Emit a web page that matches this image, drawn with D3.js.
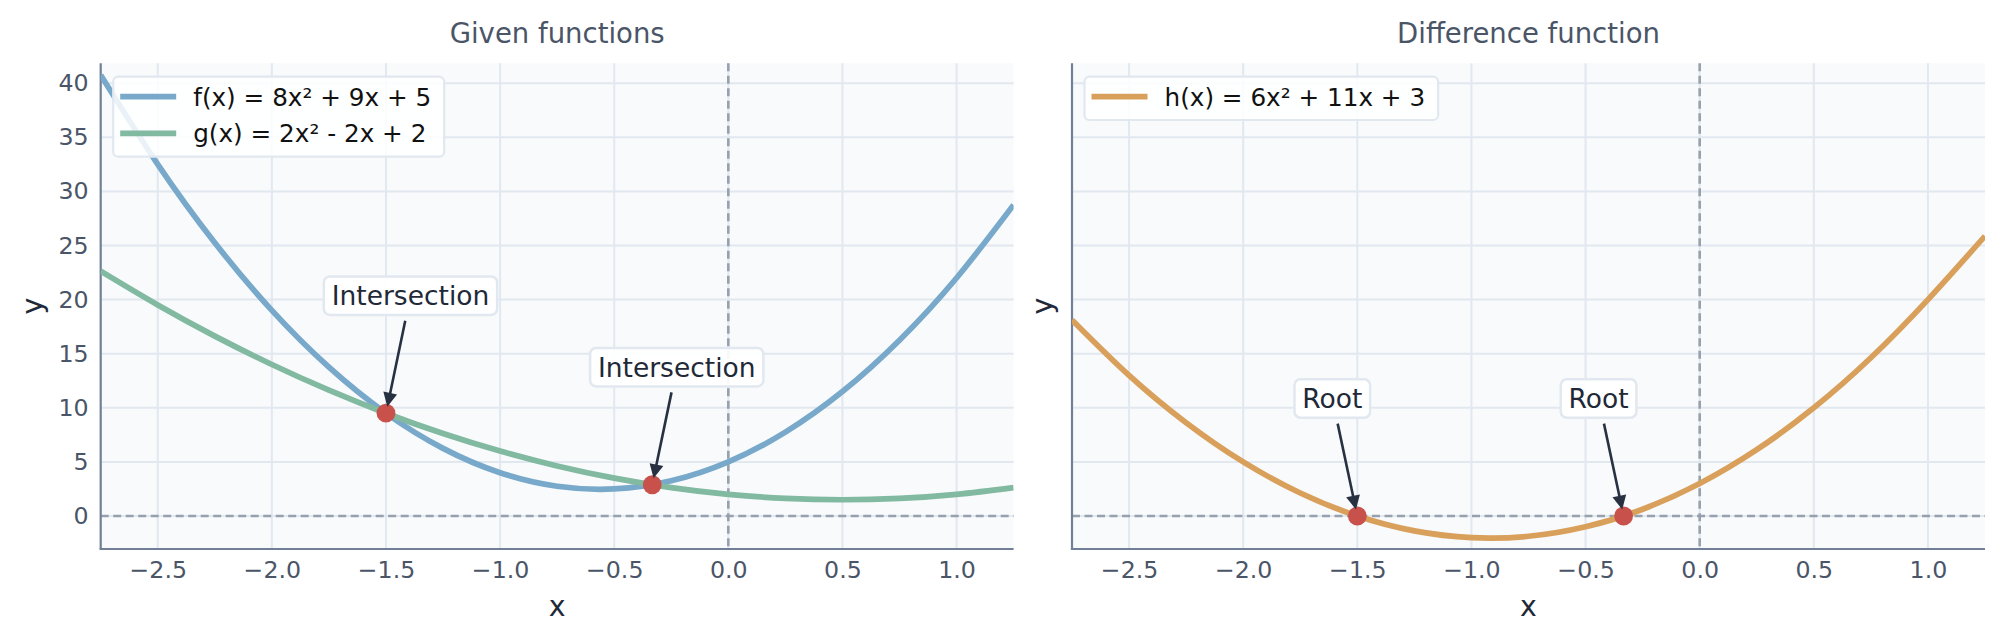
<!DOCTYPE html>
<html>
<head>
<meta charset="utf-8">
<script src="https://cdn.jsdelivr.net/npm/d3@7"></script>
<style>
  body { margin: 0; background: #fff; }
  text { font-family: "DejaVu Sans", sans-serif; }
</style>
</head>
<body>
<script>
// sampled curve values, x step 0.25
const xs = [-2.75, -2.5, -2.25, -2, -1.75, -1.5, -1.25, -1, -0.75, -0.5, -0.25, 0, 0.25, 0.5, 0.75, 1, 1.25]
const fVals = [40.75, 32.5, 25.25, 19, 13.75, 9.5, 6.25, 4, 2.75, 2.5, 3.25, 5, 7.75, 11.5, 16.25, 22, 28.75]
const gVals = [22.625, 19.5, 16.625, 14, 11.625, 9.5, 7.625, 6, 4.625, 3.5, 2.625, 2, 1.625, 1.5, 1.625, 2, 2.625]
const hVals = [18.125, 13, 8.625, 5, 2.125, 0, -1.375, -2, -1.875, -1, 0.625, 3, 6.125, 10, 14.625, 20, 25.875]
const xTicks = [-2.5, -2, -1.5, -1, -0.5, 0, 0.5, 1]
const yTicks = [0, 5, 10, 15, 20, 25, 30, 35, 40]
const intersections = [{x: -1.5, y: 9.5}, {x: -0.3333, y: 2.889}]
const roots = [{x: -1.5, y: 0}, {x: -0.3333, y: 0}]

const W = 2004, H = 642
const plotTop = 63.3, plotBottom = 549
const svg = d3.select('body').append('svg')
    .attr('width', W)
    .attr('height', H)

const defs = svg.append('defs')

function panel(opts) {
  const x = d3.scaleLinear().domain([-2.75, 1.25]).range([opts.left, opts.right])
  const y = d3.scaleLinear().domain([-3.05, 41.84]).range([plotBottom, plotTop])
  const g = svg.append('g')

  defs.append('clipPath').attr('id', 'clip' + opts.id)
    .append('rect')
      .attr('x', opts.left).attr('y', plotTop)
      .attr('width', opts.right - opts.left).attr('height', plotBottom - plotTop)

  g.append('rect')
      .attr('x', opts.left).attr('y', plotTop)
      .attr('width', opts.right - opts.left).attr('height', plotBottom - plotTop)
      .attr('fill', '#f8fafc')

  // grid
  g.append('g').selectAll('line').data(xTicks).enter().append('line')
      .attr('x1', d => x(d)).attr('x2', d => x(d))
      .attr('y1', plotTop).attr('y2', plotBottom)
      .attr('stroke', '#e2e8f0').attr('stroke-width', 2)
  g.append('g').selectAll('line').data(yTicks).enter().append('line')
      .attr('x1', opts.left).attr('x2', opts.right)
      .attr('y1', d => y(d)).attr('y2', d => y(d))
      .attr('stroke', '#e2e8f0').attr('stroke-width', 2)

  // zero lines
  g.append('line')
      .attr('x1', opts.left).attr('x2', opts.right)
      .attr('y1', y(0)).attr('y2', y(0))
      .attr('stroke', '#97a1ae').attr('stroke-width', 2.6)
      .attr('stroke-dasharray', '8,4.5')
  g.append('line')
      .attr('x1', x(0)).attr('x2', x(0))
      .attr('y1', plotTop).attr('y2', plotBottom)
      .attr('stroke', '#97a1ae').attr('stroke-width', 2.6)
      .attr('stroke-dasharray', '8,4.5')

  // axes (no tick marks)
  const xAxis = g.append('g')
      .attr('transform', 'translate(0,' + plotBottom + ')')
      .call(d3.axisBottom(x).tickValues(xTicks).tickFormat(d3.format('.1f')).tickSize(0).tickPadding(29))
  xAxis.select('.domain').remove()
  xAxis.selectAll('text')
      .attr('dy', 0)
      .style('font-size', '23.7px')
      .style('font-family', '"DejaVu Sans", sans-serif')
      .attr('fill', '#4a5568')

  if (opts.yLabels) {
    const yAxis = g.append('g')
        .attr('transform', 'translate(' + opts.left + ',0)')
        .call(d3.axisLeft(y).tickValues(yTicks).tickFormat(d3.format('d')).tickSize(0).tickPadding(12))
    yAxis.select('.domain').remove()
    yAxis.selectAll('text')
        .style('font-size', '23.7px')
        .style('font-family', '"DejaVu Sans", sans-serif')
        .attr('fill', '#4a5568')
  }

  g.append('line')
      .attr('x1', opts.left).attr('x2', opts.left)
      .attr('y1', plotTop).attr('y2', plotBottom)
      .attr('stroke', '#718096').attr('stroke-width', 2.2)
  g.append('line')
      .attr('x1', opts.left - 1.1).attr('x2', opts.right)
      .attr('y1', plotBottom).attr('y2', plotBottom)
      .attr('stroke', '#718096').attr('stroke-width', 2.2)

  // titles and labels
  g.append('text')
      .attr('x', (opts.left + opts.right) / 2).attr('y', 42.5)
      .attr('text-anchor', 'middle')
      .style('font-size', '27.5px')
      .attr('fill', '#4a5568')
      .text(opts.title)
  g.append('text')
      .attr('x', (opts.left + opts.right) / 2).attr('y', 616)
      .attr('text-anchor', 'middle')
      .style('font-size', '28.4px')
      .attr('fill', '#1f2937')
      .text('x')
  g.append('text')
      .attr('transform', 'translate(' + opts.yLabelX + ',' + (plotTop + plotBottom) / 2 + ') rotate(-90)')
      .attr('text-anchor', 'middle')
      .style('font-size', '28.4px')
      .attr('fill', '#1f2937')
      .text('y')

  // curves
  const line = d3.line()
      .x((d, i) => x(xs[i]))
      .y(d => y(d))
      .curve(d3.curveNatural)
  const curves = g.append('g').attr('clip-path', 'url(#clip' + opts.id + ')')
  opts.series.forEach(function(s) {
    curves.append('path')
        .datum(s.values)
        .attr('d', line)
        .attr('fill', 'none')
        .attr('stroke', s.color)
        .attr('stroke-width', 5.7)
  })

  // marked points
  g.append('g').selectAll('circle').data(opts.points).enter().append('circle')
      .attr('cx', d => x(d.x)).attr('cy', d => y(d.y))
      .attr('r', 9.4)
      .attr('fill', '#c9514b')

  // annotations
  opts.points.forEach(function(p) {
    const px = x(p.x), py = y(p.y)
    const cx = px + opts.annDx, cy = py - 117.5
    const a = g.append('g')
    const t = a.append('text')
        .attr('x', cx).attr('y', cy)
        .attr('dy', '0.36em')
        .attr('text-anchor', 'middle')
        .style('font-size', '26.5px')
        .attr('fill', '#1f2937')
        .text(opts.annText)
    const tw = t.node().getComputedTextLength()
    const bw = tw + 15.6, bh = 38.5
    a.insert('rect', 'text')
        .attr('x', cx - bw / 2).attr('y', cy - bh / 2)
        .attr('width', bw).attr('height', bh)
        .attr('rx', 6)
        .attr('fill', '#ffffff').attr('fill-opacity', 0.92)
        .attr('stroke', '#e2e8f0').attr('stroke-width', 2.5)
    // arrow from box edge to point
    const dx = px - cx, dy = py - cy
    const len = Math.sqrt(dx * dx + dy * dy)
    const ux = dx / len, uy = dy / len
    const tEdge = Math.min(Math.abs((bh / 2) / uy), Math.abs((bw / 2) / (ux || 1e-9)))
    const sx = cx + ux * (tEdge + 6), sy = cy + uy * (tEdge + 6)
    const ex = px - ux * 6.6, ey = py - uy * 6.6
    const hl = 14, hw = 7
    const bx = ex - ux * hl, by = ey - uy * hl
    a.append('line')
        .attr('x1', sx).attr('y1', sy).attr('x2', bx + ux * 2).attr('y2', by + uy * 2)
        .attr('stroke', '#273141').attr('stroke-width', 2.6)
    a.append('path')
        .attr('d', 'M' + ex + ',' + ey +
                   'L' + (bx - uy * hw) + ',' + (by + ux * hw) +
                   'L' + (bx + uy * hw) + ',' + (by - ux * hw) + 'Z')
        .attr('fill', '#273141')
  })

  // legend
  const lg = g.append('g')
  const bx0 = opts.left + 12.5, by0 = 76.7
  const texts = opts.series.map(function(s, i) {
    return lg.append('text')
        .attr('x', bx0 + 80).attr('y', 96.7 + i * 36.7 + 8.8)
        .style('font-size', '24.7px')
        .attr('fill', '#111111')
        .text(s.name)
  })
  const maxW = d3.max(texts, t => t.node().getComputedTextLength())
  lg.insert('rect', 'text')
      .attr('x', bx0).attr('y', by0)
      .attr('width', 80 + maxW + 13)
      .attr('height', 43.3 + (opts.series.length - 1) * 36.7)
      .attr('rx', 5)
      .attr('fill', '#ffffff').attr('fill-opacity', 0.85)
      .attr('stroke', '#e2e8f0').attr('stroke-width', 2.2)
  opts.series.forEach(function(s, i) {
    lg.append('line')
        .attr('x1', bx0 + 7).attr('x2', bx0 + 63)
        .attr('y1', 96.7 + i * 36.7).attr('y2', 96.7 + i * 36.7)
        .attr('stroke', s.color).attr('stroke-width', 5.7)
  })
}

panel({
  id: 'L', left: 100.7, right: 1013.6, title: 'Given functions', yLabels: true, yLabelX: 41.5,
  series: [
    {name: 'f(x) = 8x\u00b2 + 9x + 5', values: fVals, color: '#78a9ca'},
    {name: 'g(x) = 2x\u00b2 - 2x + 2', values: gVals, color: '#81b9a1'}
  ],
  points: intersections, annText: 'Intersection', annDx: 24.5
})

panel({
  id: 'R', left: 1072, right: 1985, title: 'Difference function', yLabels: false, yLabelX: 1052,
  series: [
    {name: 'h(x) = 6x\u00b2 + 11x + 3', values: hVals, color: '#d9a05b'}
  ],
  points: roots, annText: 'Root', annDx: -25
})
</script>
</body>
</html>
